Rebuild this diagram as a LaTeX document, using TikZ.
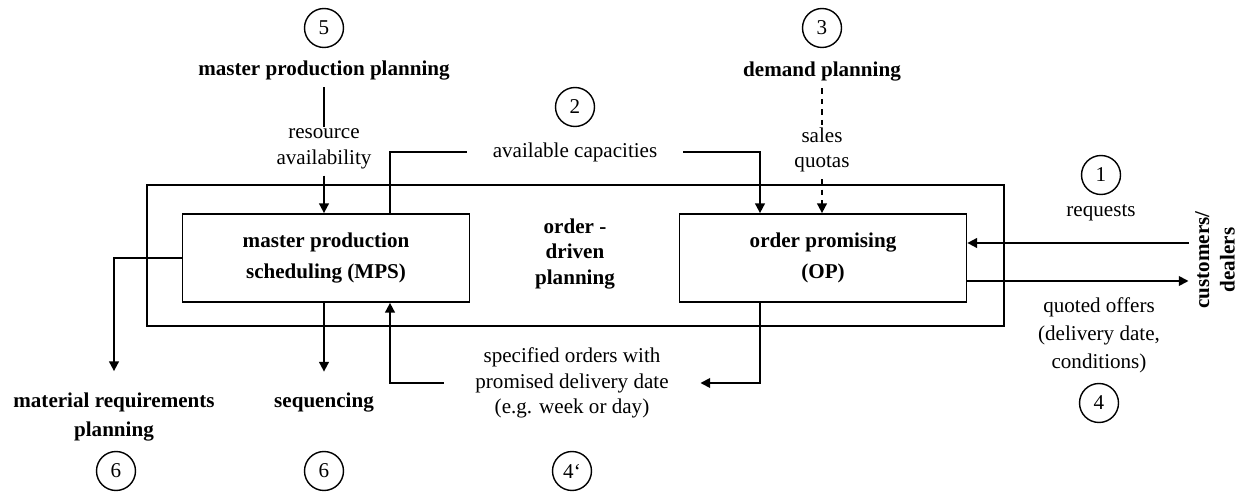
\documentclass[tikz,border=0pt]{standalone}
\usepackage{fontspec}
\setmainfont{Liberation Serif}
\usetikzlibrary{arrows.meta,positioning,calc}

\begin{document}
\begin{tikzpicture}[x=0.02cm,y=-0.02cm,
    font=\fontsize{12}{14.5}\selectfont,
    >={Triangle[length=5.5pt,width=5.5pt]},
    line width=1pt,
    lbl/.style={align=center},
    head/.style={align=center,font=\fontsize{12}{14.5}\selectfont\bfseries},
    num/.style={draw,circle,minimum size=0.78cm,inner sep=0pt,line width=0.8pt},
    block/.style={draw,align=center,minimum width=5.74cm,minimum height=1.76cm,
        font=\fontsize{12}{14.5}\selectfont\bfseries}]
    \useasboundingbox (0,0) rectangle (1243,492);

    % Order-driven planning frame
    \node[draw,minimum width=17.14cm,minimum height=2.82cm] (frame) at (575.5,255.5) {};
    \node[head] (odp) at (575,254) {order -\\driven\\planning};

    % Blocks
    \node[block] (mps) at (326,258) {master production\\[3.5pt]scheduling (MPS)};
    \node[block] (op) at (823,258) {order promising\\[3.5pt](OP)};

    % Master production planning
    \node[num] (n5) at (324,28) {5};
    \node[head] (mpp) at (324,71) {master production planning};
    \node[lbl] (res) at (324,149) {resource\\availability};
    \draw[shorten >=-0.1cm] (mpp) -- (res);
    \draw[->] (res) -- (res |- mps.north);

    % Demand planning
    \node[num] (n3) at (822,28) {3};
    \node[head] (dp) at (822,72) {demand planning};
    \node[lbl] (sq) at (822,150) {sales\\quotas};
    \draw[dashed,shorten >=-0.1cm] (dp) -- (sq);
    \draw[dashed,->] (sq) -- (sq |- op.north);

    % Available capacities
    \node[num] (n2) at (575,107) {2};
    \node[lbl,inner xsep=0.5cm] (cap) at (575,152) {available capacities};
    \draw ($(mps.north)+(64,0)$) |- (cap.west);
    \draw[->] (cap.east) -| ($(op.north)+(-63,0)$);

    % Customers / dealers
    \node[head,rotate=90] (cust) at (1215,260) {customers/\\dealers};
    \node[num] (n1) at (1101,175) {1};
    \node[lbl] (req) at (1101,213) {requests};
    \node[lbl] (quo) at (1099,335) {quoted offers\\[1.5pt](delivery date,\\[1.5pt]conditions)};
    \node[num] (n4) at (1099,403) {4};
    \coordinate (qin) at ($(op.east)+(0,-15)$);
    \coordinate (qout) at ($(op.east)+(0,23)$);
    \draw[->] (qin -| cust.north) -- (qin);
    \draw[->] (qout) -- (qout -| cust.north);

    % Downstream planning
    \node[head] (mrp) at (114,417) {material requirements\\[2pt]planning};
    \node[num] (n6a) at (116,471) {6};
    \node[head] (seq) at (324,403) {sequencing};
    \node[num] (n6b) at (324,471) {6};
    \draw[->,shorten >=0.3cm] (mps.west) -| (mrp.north);
    \draw[->,shorten >=0.3cm] (seq |- mps.south) -- (seq.north);

    % Specified orders
    \node[lbl,inner xsep=0.62cm] (spec) at (572,383) {specified orders with\\promised delivery date\\(e.g. week or day)};
    \node[num] (n4b) at (572,471) {4‘};
    \draw[->] ($(op.south)+(-63,0)$) |- (spec.east);
    \draw[->] (spec.west) -| ($(mps.south)+(64,0)$);
\end{tikzpicture}
\end{document}
